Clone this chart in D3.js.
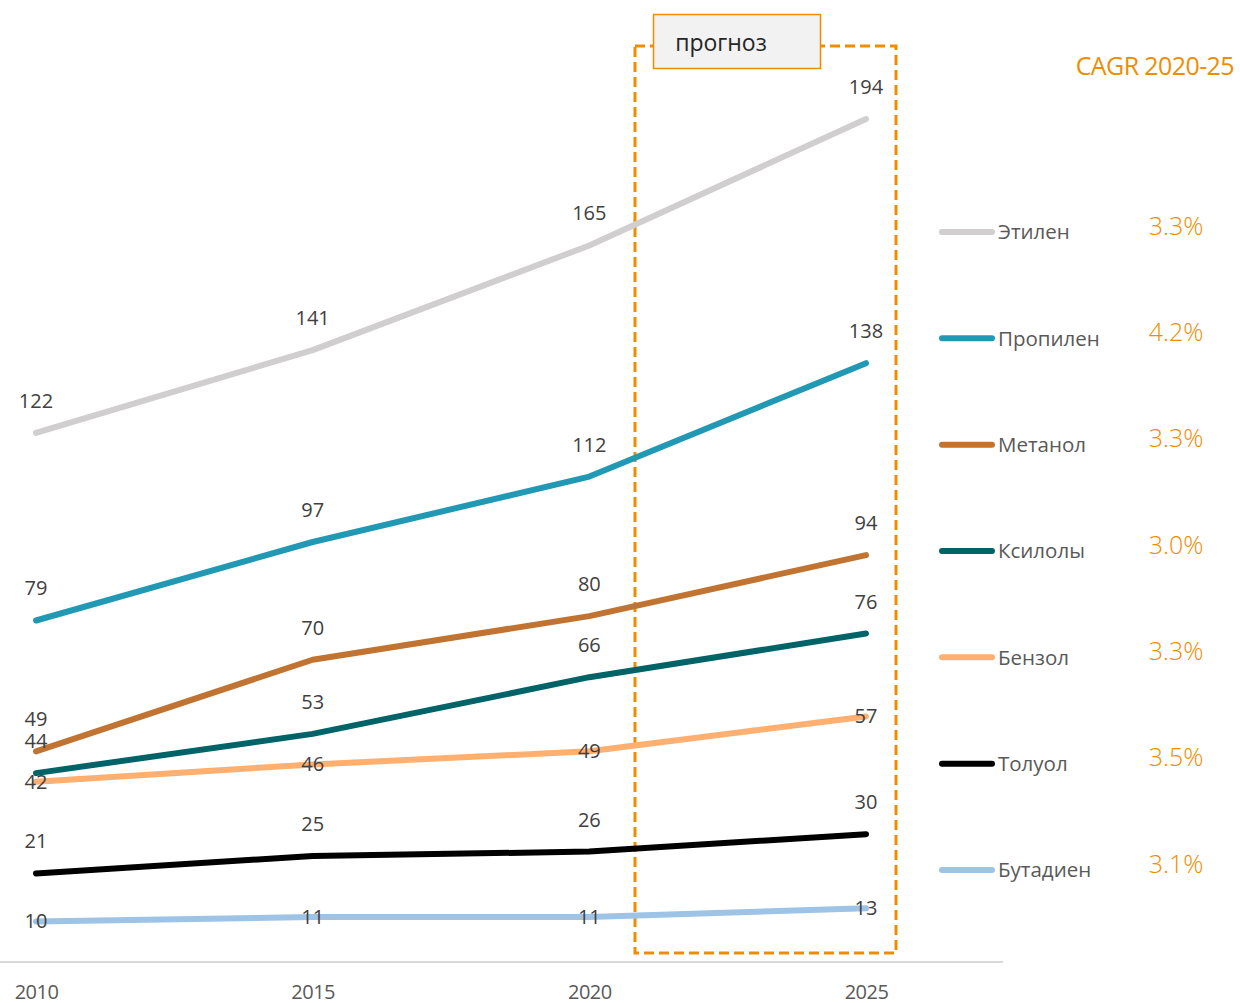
<!DOCTYPE html>
<html>
<head>
<meta charset="utf-8">
<script src="https://cdn.jsdelivr.net/npm/d3@7"></script>
<style>
  html, body { margin: 0; padding: 0; background: #fff; }
  svg { display: block; font-family: "Open Sans", "Noto Sans", sans-serif; }
</style>
</head>
<body>
<svg id="chart" width="1240" height="1003"></svg>
<script>
// Years on the category axis
const years = [2010, 2015, 2020, 2025];

// Series names (legend order) and their values per year
const seriesNames = ["Этилен", "Пропилен", "Метанол", "Ксилолы", "Бензол", "Толуол", "Бутадиен"];
const ethylene  = [122, 141, 165, 194];
const propylene = [79, 97, 112, 138];
const methanol  = [49, 70, 80, 94];
const xylenes   = [44, 53, 66, 76];
const benzene   = [42, 46, 49, 57];
const toluene   = [21, 25, 26, 30];
const butadiene = [10, 11, 11, 13];

// CAGR 2020-25 per series, percent
const cagr = [3.3, 4.2, 3.3, 3.0, 3.3, 3.5, 3.1];

const colors = ["#D0CECE", "#2199B5", "#C17431", "#006368", "#FFAF70", "#000000", "#9DC3E6"];
// label placement: above the point or centred on it
const labelPos = ["above", "above", "above", "above", "center", "above", "center"];

const values = [ethylene, propylene, methanol, xylenes, benzene, toluene, butadiene];

const svg = d3.select("#chart");

const x = d3.scalePoint().domain(years).range([36, 866]);
const y = d3.scaleLinear().domain([0, 194]).range([965, 119]);

// category axis line
svg.append("line")
  .attr("x1", 0).attr("x2", 1003)
  .attr("y1", 962).attr("y2", 962)
  .attr("stroke", "#d9d9d9").attr("stroke-width", 2);

// category axis labels
const xAxis = d3.axisBottom(x).tickSize(0).tickPadding(0);
const gx = svg.append("g").attr("transform", "translate(0,985)").call(xAxis);
gx.select(".domain").remove();
gx.selectAll("text")
  .attr("font-size", 20)
  .attr("fill", "#595959")
  .attr("dy", "0.7em")
  .attr("font-family", "'Open Sans', sans-serif")
  .attr("letter-spacing", "-0.5");

// forecast frame
svg.append("rect")
  .attr("x", 635).attr("y", 46)
  .attr("width", 261).attr("height", 907)
  .attr("fill", "none")
  .attr("stroke", "#F08C00")
  .attr("stroke-width", 3)
  .attr("stroke-dasharray", "10,5");

const line = d3.line()
  .x((d, i) => x(years[i]))
  .y(d => y(d));

// series lines
const order = d3.range(values.length);
svg.append("g").selectAll("path")
  .data(order)
  .join("path")
  .attr("d", i => line(values[i]))
  .attr("fill", "none")
  .attr("stroke", i => colors[i])
  .attr("stroke-width", 6)
  .attr("stroke-linecap", "round")
  .attr("stroke-linejoin", "round");

// data labels
const labels = svg.append("g")
  .attr("font-size", 20)
  .attr("fill", "#404040")
  .attr("text-anchor", "middle");
order.forEach(i => {
  values[i].forEach((v, j) => {
    labels.append("text")
      .attr("x", x(years[j]))
      .attr("y", labelPos[i] === "above" ? y(v) - 32 : y(v))
      .attr("dy", "0.35em")
      .text(v);
  });
});

// "прогноз" tag
svg.append("rect")
  .attr("x", 653.5).attr("y", 14.5)
  .attr("width", 167).attr("height", 54)
  .attr("fill", "#F2F2F2")
  .attr("stroke", "#F08C00")
  .attr("stroke-width", 1.5);
svg.append("text")
  .attr("x", 721).attr("y", 43)
  .attr("dy", "0.35em")
  .attr("text-anchor", "middle")
  .attr("font-size", 23)
  .attr("fill", "#262626")
  .text("прогноз");

// CAGR header
svg.append("text")
  .attr("x", 1234).attr("y", 66)
  .attr("dy", "0.35em")
  .attr("text-anchor", "end")
  .attr("font-size", 25)
  .attr("fill", "#F08C00")
  .attr("letter-spacing", "-0.6")
  .text("CAGR 2020-25");

// legend with CAGR values
const legendY = d3.scalePoint().domain(seriesNames).range([232, 870]);
const legend = svg.append("g");
seriesNames.forEach((name, i) => {
  const ly = legendY(name);
  legend.append("line")
    .attr("x1", 942).attr("x2", 992)
    .attr("y1", ly).attr("y2", ly)
    .attr("stroke", colors[i])
    .attr("stroke-width", 6)
    .attr("stroke-linecap", "round");
  legend.append("text")
    .attr("x", 998).attr("y", ly)
    .attr("dy", "0.35em")
    .attr("font-size", 20.5)
    .attr("fill", "#595959")
    .text(name);
  legend.append("text")
    .attr("x", 1176).attr("y", ly - 6)
    .attr("dy", "0.35em")
    .attr("text-anchor", "middle")
    .attr("font-size", 25)
    .attr("font-weight", 300)
    .attr("fill", "#F08C00")
    .text(cagr[i].toFixed(1) + "%");
});
</script>
</body>
</html>
